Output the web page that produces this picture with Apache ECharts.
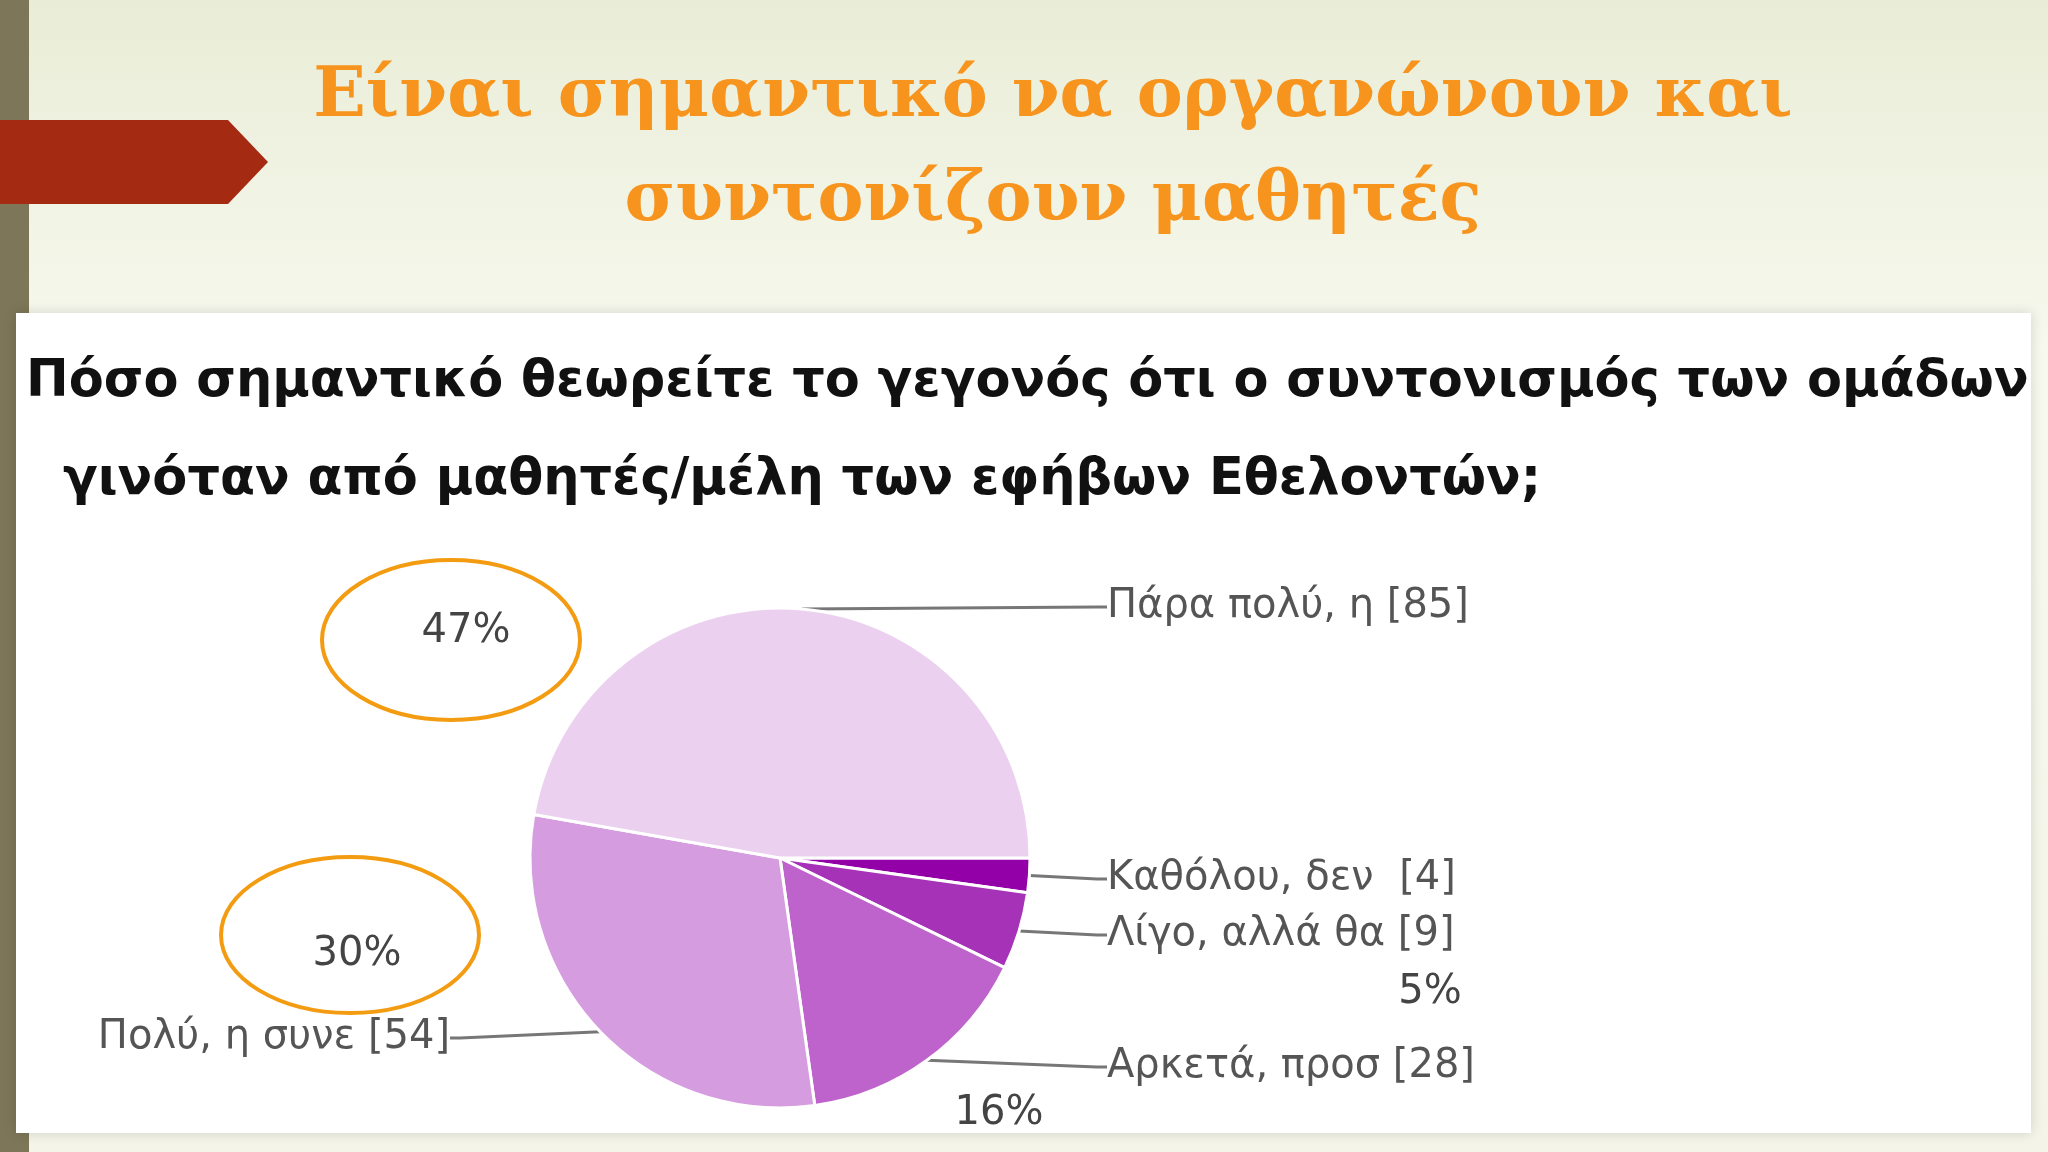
<!DOCTYPE html>
<html><head><meta charset="utf-8">
<script src="https://cdn.jsdelivr.net/npm/echarts@6/dist/echarts.min.js"></script>
<style>html,body{margin:0;padding:0;}#c{width:2048px;height:1152px;}</style>
</head><body><div id="c"></div>
<script>
const categories = ['Καθόλου, δεν ', 'Λίγο, αλλά θα', 'Αρκετά, προσ', 'Πολύ, η συνε', 'Πάρα πολύ, η'];
const values = [4, 9, 28, 54, 85];
const colors = ['#9400a8', '#a632b8', '#bf63cc', '#d59ce0', '#ebd0ef'];
const percentLabels = ['47%', '30%', '5%', '16%'];
const titleLines = ['Είναι σημαντικό να οργανώνουν και', 'συντονίζουν μαθητές'];
const questionLines = ['Πόσο σημαντικό θεωρείτε το γεγονός ότι ο συντονισμός των ομάδων', 'γινόταν από μαθητές/μέλη των εφήβων Εθελοντών;'];

const labelPos = [
  {x: 1107, y: 879, align: 'left'},
  {x: 1107, y: 935, align: 'left'},
  {x: 1107, y: 1067, align: 'left'},
  {x: 450, y: 1038, align: 'right'},
  {x: 1107, y: 607, align: 'left'}
];
const chart = echarts.init(document.getElementById('c'));
const txt = (t, x, y, style) => ({type: 'text', x, y, style: Object.assign({text: t}, style)});
const pctFont = '40px "DejaVu Sans"';
chart.setOption({
  animation: false,
  backgroundColor: {type: 'linear', x: 0, y: 0, x2: 0, y2: 1, colorStops: [{offset: 0, color: '#e9edd6'}, {offset: 0.3, color: '#f7f8ee'}, {offset: 1, color: '#f4f5e8'}]},
  graphic: [
    {type: 'rect', shape: {x: 0, y: 0, width: 29, height: 1152}, style: {fill: '#7d7658'}},
    {type: 'rect', shape: {x: 16, y: 313, width: 2015, height: 820}, style: {fill: '#ffffff', shadowBlur: 12, shadowColor: 'rgba(0,0,0,0.15)'}},
    {type: 'polygon', shape: {points: [[0,120],[228,120],[268,162],[228,204],[0,204]]}, style: {fill: '#a52a12'}},
    txt(titleLines[0], 1053, 98, {font: 'bold 69px "DejaVu Serif"', fill: '#f7941d', align: 'center', verticalAlign: 'middle'}),
    txt(titleLines[1], 1053, 202, {font: 'bold 69px "DejaVu Serif"', fill: '#f7941d', align: 'center', verticalAlign: 'middle'}),
    txt(questionLines[0], 26, 383, {font: 'bold 51px "DejaVu Sans"', fill: '#111', verticalAlign: 'middle'}),
    txt(questionLines[1], 63, 481, {font: 'bold 51px "DejaVu Sans"', fill: '#111', verticalAlign: 'middle'}),
    txt(percentLabels[0], 466, 632, {font: pctFont, fill: '#444', align: 'center', verticalAlign: 'middle'}),
    txt(percentLabels[1], 357, 955, {font: pctFont, fill: '#444', align: 'center', verticalAlign: 'middle'}),
    txt(percentLabels[2], 1430, 993, {font: pctFont, fill: '#444', align: 'center', verticalAlign: 'middle'}),
    txt(percentLabels[3], 999, 1114, {font: pctFont, fill: '#444', align: 'center', verticalAlign: 'middle'}),
    {type: 'ellipse', shape: {cx: 451, cy: 640, rx: 129, ry: 80}, style: {fill: 'none', stroke: '#f39c12', lineWidth: 4}},
    {type: 'ellipse', shape: {cx: 350, cy: 935, rx: 129, ry: 78}, style: {fill: 'none', stroke: '#f39c12', lineWidth: 4}}
  ],
  series: [{
    type: 'pie', center: [780, 858], radius: 250, startAngle: 0, clockwise: true,
    data: categories.map((c, i) => ({name: c, value: values[i], itemStyle: {color: colors[i]}})),
    itemStyle: {borderColor: '#fff', borderWidth: 3},
    label: {show: true, formatter: '{b} [{c}]', color: '#555', fontSize: 40, fontFamily: 'DejaVu Sans'},
    labelLine: {show: true, lineStyle: {color: '#777', width: 3}, length: 10, length2: 10},
    labelLayout: p => Object.assign({verticalAlign: 'middle'}, labelPos[p.dataIndex]),
    emphasis: {disabled: true}
  }]
});
</script></body></html>
